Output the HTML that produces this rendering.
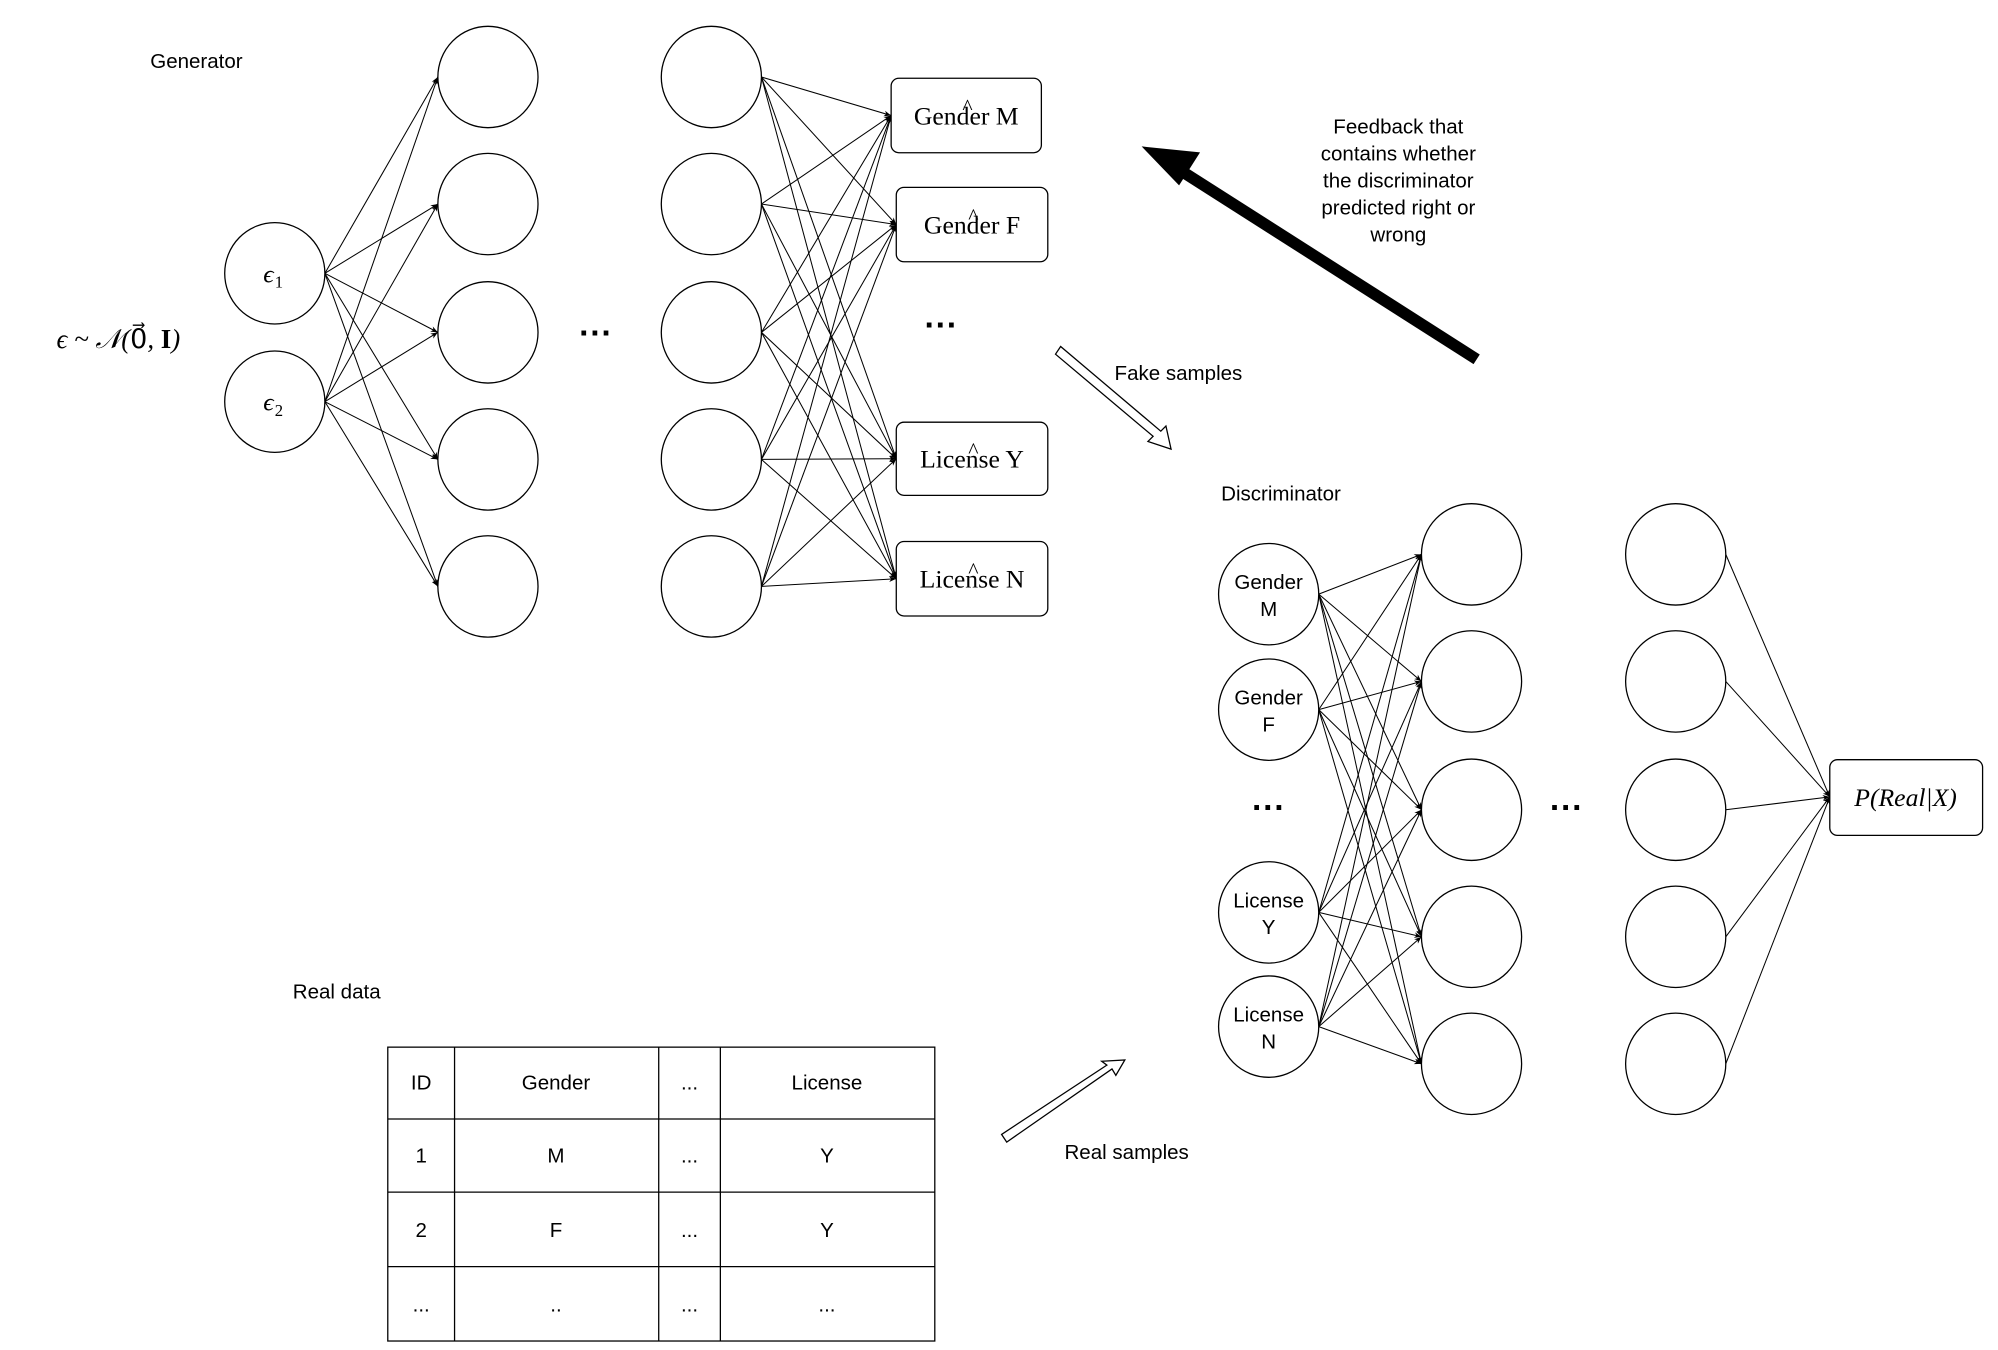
<!DOCTYPE html>
<html><head><meta charset="utf-8"><style>html,body{margin:0;padding:0;background:#fff}svg{display:block}</style></head>
<body>
<svg width="1998" height="1350" viewBox="0 0 1556 1052" preserveAspectRatio="none" xmlns="http://www.w3.org/2000/svg" font-family="Liberation Sans, sans-serif">
<defs>
<marker id="a" viewBox="0 0 10 10" refX="10" refY="5" markerWidth="7" markerHeight="7" orient="auto"><path d="M0,1 L10,5 L0,9 L3,5 z" fill="#000"/></marker>
</defs>
<g stroke="#000" stroke-width="0.8" fill="none" marker-end="url(#a)" id="lines"></g>
<g stroke="#000" stroke-width="1" fill="#fff" id="shapes"></g>
<g id="txt" font-size="16" fill="#000"></g>
<text x="117" y="53" font-size="16">Generator</text>
<text x="951" y="390" font-size="16">Discriminator</text>
<text x="228" y="778" font-size="16">Real data</text>
<text x="44" y="271" font-size="21" font-family="Liberation Serif, serif" font-style="italic">ϵ ~ 𝒩(<tspan font-style="normal">0⃗</tspan>, <tspan font-weight="bold" font-style="normal">I</tspan>)</text>
<text x="464" y="268" font-size="26" text-anchor="middle" font-weight="bold">···</text>
<text x="733" y="262" font-size="26" text-anchor="middle" font-weight="bold">···</text>
<text x="988" y="638" font-size="26" text-anchor="middle" font-weight="bold">···</text>
<text x="1220" y="638" font-size="26" text-anchor="middle" font-weight="bold">···</text>
<text x="868" y="296" font-size="16">Fake samples</text>
<text x="829" y="903" font-size="16">Real samples</text>
<g font-size="16" text-anchor="middle"><text x="1089" y="104">Feedback that</text><text x="1089" y="125">contains whether</text><text x="1089" y="146">the discriminator</text><text x="1089" y="167">predicted right or</text><text x="1089" y="188">wrong</text></g>
<line x1="1150" y1="280" x2="915" y2="130" stroke="#000" stroke-width="9"/>
<polygon points="893,116 932,120 918,142" fill="#000" stroke="#000" stroke-width="3"/>
<polygon points="822,276 826,270 904,336 908,332 912,350 894,344 898,340" fill="#fff" stroke="#000" stroke-width="1"/>
<polygon points="780,884 784,890 866,833 869,838 876,826 858,827 862,830" fill="#fff" stroke="#000" stroke-width="1"/>
<g stroke="#000" stroke-width="1" fill="none">
<rect x="302" y="816" width="426" height="229"/>
<line x1="354" y1="816" x2="354" y2="1045"/><line x1="513" y1="816" x2="513" y2="1045"/><line x1="561" y1="816" x2="561" y2="1045"/>
<line x1="302" y1="872" x2="728" y2="872"/><line x1="302" y1="929" x2="728" y2="929"/><line x1="302" y1="987" x2="728" y2="987"/>
</g>
<g font-size="16" text-anchor="middle">
<text x="328" y="849">ID</text><text x="433" y="849">Gender</text><text x="537" y="849">...</text><text x="644" y="849">License</text>
<text x="328" y="906">1</text><text x="433" y="906">M</text><text x="537" y="906">...</text><text x="644" y="906">Y</text>
<text x="328" y="964">2</text><text x="433" y="964">F</text><text x="537" y="964">...</text><text x="644" y="964">Y</text>
<text x="328" y="1022">...</text><text x="433" y="1022">..</text><text x="537" y="1022">...</text><text x="644" y="1022">...</text>
</g>
<script>
var NS="http://www.w3.org/2000/svg";
function el(p,t,a,txt){var e=document.createElementNS(NS,t);for(var k in a)e.setAttribute(k,a[k]);if(txt)e.textContent=txt;document.getElementById(p).appendChild(e);return e;}
var L=[60,159,259,358,457];
var inY=[213,313];
inY.forEach(function(y){L.forEach(function(t){el("lines","line",{x1:253,y1:y,x2:341,y2:t});});});
var outs=[[694,811,61,119,"Gender","M"],[698,816,146,204,"Gender","F"],[698,816,329,386,"License","Y"],[698,816,422,480,"License","N"]];
L.forEach(function(y){outs.forEach(function(o){el("lines","line",{x1:593,y1:y,x2:o[0],y2:(o[2]+o[3])/2});});});
var D=[432,531,631,730,829], DI=[463,553,711,800];
DI.forEach(function(y){D.forEach(function(t){el("lines","line",{x1:1027,y1:y,x2:1107,y2:t});});});
D.forEach(function(y){el("lines","line",{x1:1344,y1:y,x2:1425,y2:621});});
function c(x,y){el("shapes","ellipse",{cx:x,cy:y,rx:39,ry:39.5});}
inY.forEach(function(y){c(214,y);});
L.forEach(function(y){c(380,y);c(554,y);});
D.forEach(function(y){c(1146,y);c(1305,y);});
DI.forEach(function(y){c(988,y);});
outs.forEach(function(o){el("shapes","rect",{x:o[0],y:o[2],width:o[1]-o[0],height:o[3]-o[2],rx:6});});
el("shapes","rect",{x:1425,y:592,width:119,height:59,rx:6});
var serif="Liberation Serif, serif";
el("txt","text",{x:205,y:220,"font-family":serif,"font-style":"italic","font-size":20},"ϵ");
el("txt","text",{x:214,y:224,"font-family":serif,"font-size":13},"1");
el("txt","text",{x:205,y:320,"font-family":serif,"font-style":"italic","font-size":20},"ϵ");
el("txt","text",{x:214,y:324,"font-family":serif,"font-size":13},"2");
outs.forEach(function(o){var cx=(o[0]+o[1])/2,cy=(o[2]+o[3])/2;
 el("txt","text",{x:cx,y:cy+7,"text-anchor":"middle","font-family":serif,"font-size":20},o[4]+" "+o[5]);
 el("txt","text",{x:cx+1,y:cy-1,"text-anchor":"middle","font-family":serif,"font-size":17},"^");});
el("txt","text",{x:1484,y:628,"text-anchor":"middle","font-family":serif,"font-style":"italic","font-size":20},"P(Real|X)");
var dl=[["Gender","M"],["Gender","F"],["License","Y"],["License","N"]];
DI.forEach(function(y,i){el("txt","text",{x:988,y:y-4,"text-anchor":"middle","font-size":16},dl[i][0]);el("txt","text",{x:988,y:y+17,"text-anchor":"middle","font-size":16},dl[i][1]);});
</script>
</svg>
</body></html>
